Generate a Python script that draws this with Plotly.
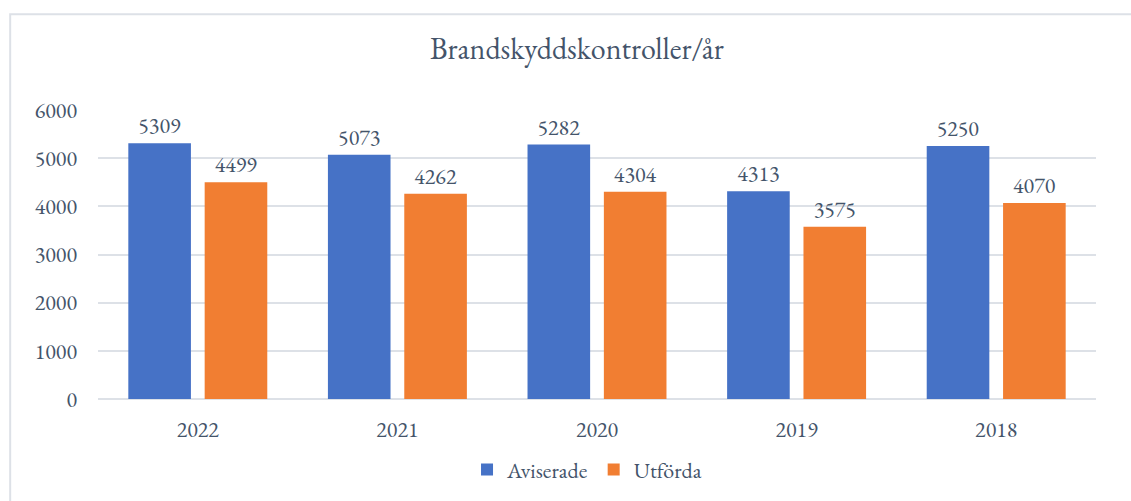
import plotly.graph_objects as go

years = ["2022", "2021", "2020", "2019", "2018"]
aviserade = [5309, 5073, 5282, 4313, 5250]
utforda = [4499, 4262, 4304, 3575, 4070]
y_ticks = [0, 1000, 2000, 3000, 4000, 5000, 6000]

FONT = "Garamond, 'EB Garamond', 'Liberation Serif', 'DejaVu Serif', serif"
TXT = "#44546A"

fig = go.Figure()
fig.add_trace(go.Bar(
    x=years, y=aviserade, name="Aviserade",
    marker=dict(color="#4672C6", line=dict(width=0)),
    text=[str(v) for v in aviserade], textposition="outside",
    textfont=dict(family=FONT, size=22, color=TXT), cliponaxis=False,
))
fig.add_trace(go.Bar(
    x=years, y=utforda, name="Utförda",
    marker=dict(color="#F17E32", line=dict(width=0)),
    text=[str(v) for v in utforda], textposition="outside",
    textfont=dict(family=FONT, size=22, color=TXT), cliponaxis=False,
))

fig.update_layout(
    width=1131, height=501,
    paper_bgcolor="white", plot_bgcolor="white",
    margin=dict(l=98, r=35, t=110, b=101),
    barmode="group", bargap=0.235, bargroupgap=0.18,
    title=dict(text="Brandskyddskontroller/år", x=0.51, xanchor="center",
               y=0.903, yanchor="middle",
               font=dict(family=FONT, size=30, color=TXT)),
    font=dict(family=FONT, color=TXT),
    legend=dict(orientation="h", x=0.49, xanchor="center", y=-0.24, yanchor="middle",
                font=dict(family=FONT, size=22, color=TXT), itemwidth=30,
                traceorder="normal"),
    xaxis=dict(showgrid=False, showline=False, ticks="", ticklabelstandoff=15,
               tickfont=dict(family=FONT, size=22, color=TXT)),
    yaxis=dict(range=[0, 6000], tickvals=y_ticks, showgrid=True,
               gridcolor="#DDE1E7", gridwidth=2, zeroline=True,
               zerolinecolor="#DDE1E7", zerolinewidth=2,
               showline=False, ticks="", ticklabelstandoff=20,
               tickfont=dict(family=FONT, size=22, color=TXT)),
    shapes=[dict(type="rect", xref="paper", yref="paper",
                 x0=-0.088, x1=1.05, y0=-0.5, y1=1.331,
                 line=dict(color="#DDE1E7", width=2), fillcolor="rgba(0,0,0,0)",
                 layer="below")],
)

fig.write_html("out.html", config={"displayModeBar": False},
               post_script="document.body.style.margin='0px';")
